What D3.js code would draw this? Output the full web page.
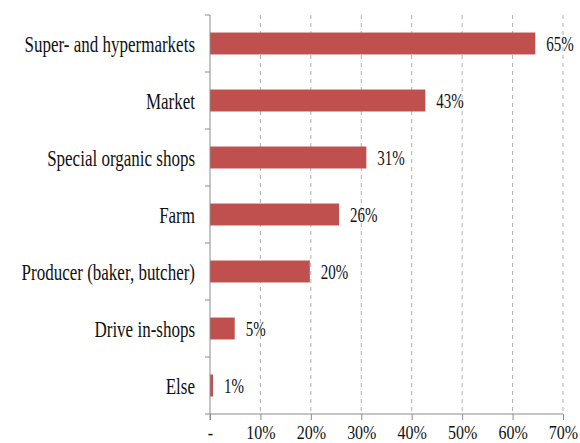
<!DOCTYPE html>
<html>
<head>
<meta charset="utf-8">
<script src="https://cdn.jsdelivr.net/npm/d3@7"></script>
<style>
  body { margin: 0; background: #fff; }
  svg text { font-family: "Liberation Serif", "DejaVu Serif", "Times New Roman", serif !important; fill: #111; }
</style>
</head>
<body>
<div id="chart"></div>
<script>
// categories, top to bottom
var categories = ["Super- and hypermarkets", "Market", "Special organic shops", "Farm",
    "Producer (baker, butcher)", "Drive in-shops", "Else"];
// share of respondents, %
var values = [64.5, 42.7, 31.0, 25.6, 19.8, 4.9, 0.6];
var valueLabels = ["65%", "43%", "31%", "26%", "20%", "5%", "1%"];
var xTicks = [0, 10, 20, 30, 40, 50, 60, 70];
var xTickLabels = ["-", "10%", "20%", "30%", "40%", "50%", "60%", "70%"];

var margin = { top: 15, right: 17, bottom: 29, left: 210 };
var width = 580 - margin.left - margin.right;
var height = 443 - margin.top - margin.bottom;
var stretch = 1.4; // the source picture has tall, narrow lettering

var svg = d3.select("#chart").append("svg")
    .attr("width", 580)
    .attr("height", 443)
    .append("g")
    .attr("transform", "translate(" + margin.left + "," + margin.top + ")");

var x = d3.scaleLinear().domain([0, 70]).range([0, width]);
var y = d3.scaleBand().domain(categories).range([0, height]).paddingInner(0.615).paddingOuter(0.3075);

function place(tx, ty, k) {
    return "translate(" + tx + "," + ty + ") scale(1," + k + ")";
}

// dashed gridlines
svg.append("g").selectAll("line")
    .data(xTicks.slice(1))
    .enter().append("line")
    .attr("x1", d => x(d)).attr("x2", d => x(d))
    .attr("y1", 0).attr("y2", height)
    .attr("stroke", "#b0b0b0")
    .attr("stroke-dasharray", "4,4");

// bars
svg.append("g").selectAll("rect")
    .data(values)
    .enter().append("rect")
    .attr("x", 0)
    .attr("y", (d, i) => y(categories[i]))
    .attr("width", d => x(d))
    .attr("height", y.bandwidth())
    .attr("fill", "#c0504d");

// value labels
svg.append("g").selectAll("text")
    .data(values)
    .enter().append("text")
    .attr("transform", (d, i) => place(x(d) + 11, y(categories[i]) + y.bandwidth() / 2 + 7.5, 1.35))
    .attr("font-size", "15px")
    .text((d, i) => valueLabels[i]);

// y axis: line with ticks between categories
var yAxis = svg.append("g");
yAxis.append("line")
    .attr("x1", 0).attr("x2", 0).attr("y1", 0).attr("y2", height + 6)
    .attr("stroke", "#8c8c8c");
var step = y.step();
yAxis.selectAll("line.tick")
    .data(d3.range(categories.length))
    .enter().append("line")
    .attr("class", "tick")
    .attr("x1", -5).attr("x2", 0)
    .attr("y1", i => i * step).attr("y2", i => i * step)
    .attr("stroke", "#8c8c8c");
yAxis.selectAll("text")
    .data(categories)
    .enter().append("text")
    .attr("transform", d => place(-15, y(d) + y.bandwidth() / 2 + 8.5, stretch))
    .attr("text-anchor", "end")
    .attr("font-size", "17px")
    .text(d => d);

// x axis
var xAxis = svg.append("g")
    .attr("transform", "translate(0," + height + ")")
    .call(d3.axisBottom(x)
        .tickValues(xTicks)
        .tickSize(6)
        .tickFormat((d, i) => xTickLabels[i]));
xAxis.select(".domain").attr("stroke", "#8c8c8c").attr("d", "M-5,0H" + width);
xAxis.selectAll(".tick line").attr("stroke", "#8c8c8c");
xAxis.selectAll("text")
    .attr("y", 0)
    .attr("dy", null)
    .attr("transform", place(0, 24.5, 1.2))
    .attr("font-size", "16px")
    .attr("fill", "#111");
</script>
</body>
</html>
